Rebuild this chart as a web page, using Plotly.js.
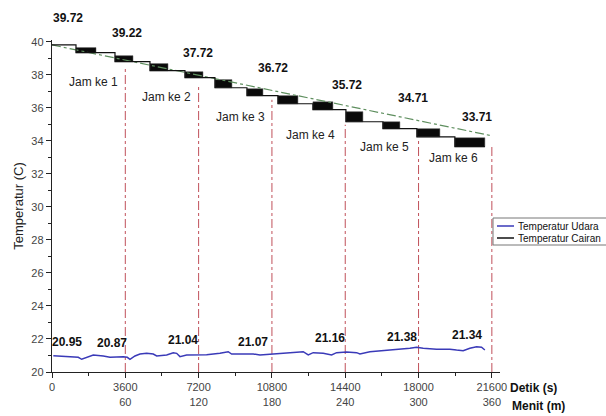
<!DOCTYPE html>
<html>
<head>
<meta charset="utf-8">
<script src="https://cdn.plot.ly/plotly-3.0.1.min.js"></script>
<style>html,body{margin:0;padding:0;background:#fff;}#chart{width:606px;height:416px;}</style>
</head>
<body>
<div id="chart"></div>
<script>
// ---- data ----
// Air temperature (blue)
var airTime = [64,722,1291,1458,1865,2027,2518,2847,3500,3697,3829,4075,4320,4649,4973,5140,5631,5955,6121,6284,6612,7103,7594,8247,8654,8821,9229,9882,10211,10864,11192,11683,12336,12582,12827,13318,13731,13976,14467,14958,15120,15611,16264,16922,17574,17903,18227,18885,19538,19867,20191,20520,20849,21094,21256];
var airTemp = [20.99,20.93,20.89,20.77,20.93,21.03,20.97,20.89,20.93,20.89,20.77,20.97,21.09,21.13,21.09,20.97,21.03,21.17,21.13,20.93,21.03,21.03,21.05,21.13,21.23,21.09,21.09,21.09,21.03,21.09,21.09,21.17,21.23,21.03,21.17,21.13,21.03,21.17,21.21,21.17,21.09,21.23,21.29,21.38,21.44,21.50,21.44,21.38,21.38,21.33,21.29,21.44,21.53,21.50,21.33];
// Liquid temperature (black step line)
var liqTime = [0,1178,3093,4811,6529,8002,9573,11094,12813,14433,16249,17918,19784,21256];
var liqTemp = [39.80,39.33,38.79,38.24,37.82,37.21,36.73,36.24,35.88,35.15,34.73,34.24,33.64,33.64];
// Dense fluctuation blocks on the liquid curve
var blockStart  = [1178,3093,4811,6529,8002,9573,11094,12813,14433,16249,17918,19784];
var blockEnd    = [2160,3976,5695,7413,8836,10358,12076,13794,15267,17083,19047,21256];
var blockTop    = [39.64,39.15,38.67,38.18,37.70,37.15,36.73,36.36,35.76,35.15,34.73,34.18];
var blockBottom = [39.33,38.79,38.24,37.82,37.21,36.73,36.24,35.88,35.15,34.73,34.24,33.64];
// Trend line (green dash-dot)
var trendTime = [0,21600];
var trendTemp = [39.80,34.30];
// Hour marks
var hourSec = [3600,7200,10800,14400,18000,21600];
var hourTop = [38.42,37.39,36.48,34.97,34.06,33.64];
var hourNames = ['Jam ke 1','Jam ke 2','Jam ke 3','Jam ke 4','Jam ke 5','Jam ke 6'];
// Value labels
var liqLabels = ['39.72','39.22','37.72','36.72','35.72','34.71','33.71'];
var airLabels = ['20.95','20.87','21.04','21.07','21.16','21.38','21.34'];
// Tick labels
var tickSec = [0,3600,7200,10800,14400,18000,21600];
var tickMin = ['',60,120,180,240,300,360];
var seriesNames = ['Temperatur Udara','Temperatur Cairan'];

// ---- build ----
var FONT = 'Liberation Sans Narrow, Arial Narrow, Liberation Sans, Arial, sans-serif';
var L = 52, T = 40, W = 448, H = 332;
function px(x){ return (x - L) / W; }
function py(y){ return (T + H - y) / H; }

var hx = [], hy = [];
hourSec.forEach(function(s,i){ hx.push(s,s,null); hy.push(20,hourTop[i],null); });

var bx = [], bw = [], bh = [];
blockStart.forEach(function(s,i){
  bx.push((s+blockEnd[i])/2); bw.push(blockEnd[i]-s); bh.push(blockTop[i]-blockBottom[i]);
});

var traces = [
  {x: hx, y: hy, mode:'lines', line:{color:'#c0505a', width:1, dash:'dashdot'}, showlegend:false, hoverinfo:'skip'},
  {x: trendTime, y: trendTemp, mode:'lines', line:{color:'#5f8f5f', width:1.2, dash:'dashdot'}, showlegend:false},
  {type:'bar', x: bx, width: bw, base: blockBottom, y: bh, marker:{color:'#0a0a0a', line:{color:'#555', width:0.5}}, showlegend:false},
  {x: airTime, y: airTemp, mode:'lines', name:seriesNames[0], line:{color:'#3a3ab8', width:1.5}, showlegend:false},
  {x: liqTime, y: liqTemp, mode:'lines', name:seriesNames[1], line:{color:'#111', width:1.2, shape:'hv'}, showlegend:false}
];

var ann = [];
// pixel positions of text labels
var liqPos = [[68,18],[127,33],[198,53],[273,68],[347,85],[413,98],[477,117]];
var airPos = [[67,342],[112,343],[183,340],[253,342],[330,338],[402,337],[467,335]];
var jamPos = [[93,82],[166,97],[240,117],[310,135],[384,147],[453,158]];
function addText(t, p, size, bold, color, xa){
  ann.push({x:px(p[0]), y:py(p[1]), xref:'paper', yref:'paper', xanchor: xa || 'center', yanchor:'middle',
            text: bold ? '<b>'+t+'</b>' : t, showarrow:false, font:{family:FONT, size:size, color:color}});
}
liqLabels.forEach(function(t,i){ addText(t, liqPos[i], 12, true, '#111'); });
airLabels.forEach(function(t,i){ addText(t, airPos[i], 12, true, '#111'); });
hourNames.forEach(function(t,i){ addText(t, jamPos[i], 12, false, '#222'); });
addText('Detik (s)', [508,388], 12, true, '#111', 'left');
addText('Menit (m)', [510,406], 12, true, '#111', 'left');

// manual legend
var shapes = [
  {type:'rect', xref:'paper', yref:'paper', x0:px(493), x1:px(640), y0:py(218), y1:py(245), line:{color:'#777', width:1}, fillcolor:'#fff', layer:'above'},
  {type:'line', xref:'paper', yref:'paper', x0:px(497), x1:px(514), y0:py(226), y1:py(226), line:{color:'#3a3ab8', width:1.5}, layer:'above'},
  {type:'line', xref:'paper', yref:'paper', x0:px(497), x1:px(514), y0:py(238), y1:py(238), line:{color:'#111', width:1.5}, layer:'above'}
];
addText(seriesNames[0], [516,226], 10, false, '#111', 'left');
addText(seriesNames[1], [516,238], 10, false, '#111', 'left');

var tickText = tickSec.map(function(s,i){ return tickMin[i]==='' ? String(s) : s+'<br>'+tickMin[i]; });

var layout = {
  width:606, height:416,
  margin:{l:L, r:606-L-W, t:T, b:416-T-H},
  paper_bgcolor:'#fff', plot_bgcolor:'#fff',
  font:{family:FONT, size:11, color:'#333'},
  showlegend:false,
  xaxis:{range:[0,22000], tickvals:tickSec, ticktext:tickText, showgrid:false, zeroline:false, showline:true, linecolor:'#222', linewidth:1.2, ticks:'outside', ticklen:5, tickcolor:'#222',
         minor:{tickvals:[1800,5400,9000,12600,16200,19800], ticks:'outside', ticklen:3, tickcolor:'#222'}, tickfont:{family:FONT, size:11, color:'#444'}},
  yaxis:{range:[20,40.1], tickvals:[20,22,24,26,28,30,32,34,36,38,40], showgrid:false, zeroline:false, showline:true, linecolor:'#222', linewidth:1.2, ticks:'outside', ticklen:5, tickcolor:'#222',
         minor:{dtick:1, ticks:'outside', ticklen:3, tickcolor:'#222'}, tickfont:{family:FONT, size:11, color:'#444'},
         title:{text:'Temperatur (C)', font:{family:FONT, size:13, color:'#222'}, standoff:4}},
  annotations: ann,
  shapes: shapes
};

Plotly.newPlot('chart', traces, layout, {displayModeBar:false, staticPlot:true});
</script>
</body>
</html>
